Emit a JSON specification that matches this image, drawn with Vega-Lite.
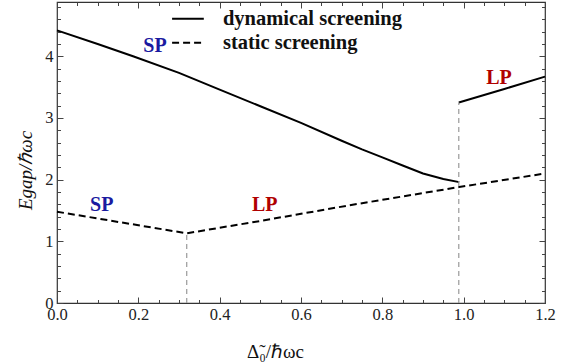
{
  "$schema": "https://vega.github.io/schema/vega-lite/v6.json",
  "width": 488,
  "height": 301,
  "autosize": {"type": "none"},
  "padding": {"left": 57, "top": 2, "right": 29, "bottom": 59},
  "config": {
    "view": {"stroke": "#333", "strokeWidth": 1.2},
    "font": "Liberation Serif",
    "text": {"font": "Liberation Serif"},
    "style": {"guide-label": {"font": "Liberation Serif"}, "guide-title": {"font": "Liberation Serif"}},
    "axis": {"grid": false, "domain": false, "labelFont": "Liberation Serif", "titleFont": "Liberation Serif", "tickColor": "#444", "tickWidth": 1, "labelColor": "#222", "titleColor": "#111"}
  },
  "datasets": {
    "curves": [
      {"s": "dyn1", "x": 0.0, "y": 4.42},
      {"s": "dyn1", "x": 0.1, "y": 4.2},
      {"s": "dyn1", "x": 0.187, "y": 4.0},
      {"s": "dyn1", "x": 0.3, "y": 3.73},
      {"s": "dyn1", "x": 0.4, "y": 3.46},
      {"s": "dyn1", "x": 0.5, "y": 3.19},
      {"s": "dyn1", "x": 0.6, "y": 2.92},
      {"s": "dyn1", "x": 0.7, "y": 2.63},
      {"s": "dyn1", "x": 0.75, "y": 2.49},
      {"s": "dyn1", "x": 0.8, "y": 2.36},
      {"s": "dyn1", "x": 0.85, "y": 2.23},
      {"s": "dyn1", "x": 0.9, "y": 2.1},
      {"s": "dyn1", "x": 0.95, "y": 2.01},
      {"s": "dyn1", "x": 0.989, "y": 1.96},
      {"s": "dyn2", "x": 0.988, "y": 3.25},
      {"s": "dyn2", "x": 1.1, "y": 3.47},
      {"s": "dyn2", "x": 1.2, "y": 3.67},
      {"s": "stat", "x": 0.0, "y": 1.48},
      {"s": "stat", "x": 0.319, "y": 1.13},
      {"s": "stat", "x": 0.5, "y": 1.33},
      {"s": "stat", "x": 0.72, "y": 1.585},
      {"s": "stat", "x": 0.989, "y": 1.88},
      {"s": "stat", "x": 1.2, "y": 2.1}
    ],
    "vlines": [
      {"x": 0.319, "y0": 0, "y1": 1.13},
      {"x": 0.988, "y0": 0, "y1": 3.25}
    ],
    "labels": [
      {"x": 0.241, "y": 4.16, "t": "SP", "c": "blue"},
      {"x": 0.11, "y": 1.59, "t": "SP", "c": "blue"},
      {"x": 0.511, "y": 1.59, "t": "LP", "c": "red"},
      {"x": 1.087, "y": 3.65, "t": "LP", "c": "red"}
    ],
    "legend": [
      {"x1": 0.283, "x2": 0.361, "xt": 0.408, "y": 4.61, "t": "dynamical screening", "s": "solid"},
      {"x1": 0.283, "x2": 0.361, "xt": 0.408, "y": 4.22, "t": "static screening", "s": "dashed"}
    ]
  },
  "resolve": {"axis": {"x": "independent", "y": "independent"}},
  "layer": [
    {
      "data": {"name": "curves"},
      "transform": [{"filter": "datum.s !== 'stat'"}],
      "mark": {"type": "line", "color": "black", "strokeWidth": 2},
      "encoding": {
        "detail": {"field": "s"},
        "x": {"field": "x", "type": "quantitative", "scale": {"domain": [0, 1.2], "nice": false, "zero": false},
          "axis": {"orient": "bottom", "values": [0, 0.2, 0.4, 0.6, 0.8, 1.0, 1.2], "format": ".1f", "ticks": false, "labelFont": "Liberation Serif", "labelFontSize": 16.5, "labelPadding": 3, "labelFlush": false,
            "title": "Δ̃₀/ℏωc", "titleFont": "Liberation Serif", "titleFontSize": 19, "titleFontWeight": "normal", "titleX": 218, "titleY": 48, "titleBaseline": "middle"}},
        "y": {"field": "y", "type": "quantitative", "scale": {"domain": [0, 4.88], "nice": false, "zero": false},
          "axis": {"orient": "left", "values": [0, 1, 2, 3, 4], "format": "d", "ticks": false, "labelFont": "Liberation Serif", "labelFontSize": 16.5, "labelPadding": 4, "labelFlush": false,
            "title": "Egap/ℏωc", "titleFont": "Liberation Serif", "titleFontSize": 19, "titleFontWeight": "normal", "titleFontStyle": "italic", "titleAngle": -90, "titleX": -32, "titleY": 168, "titleAlign": "center", "titleBaseline": "middle"}}
      }
    },
    {
      "data": {"name": "curves"},
      "transform": [{"filter": "datum.s === 'stat'"}],
      "mark": {"type": "line", "color": "black", "strokeWidth": 2, "strokeDash": [7, 4]},
      "encoding": {
        "x": {"field": "x", "type": "quantitative", "scale": {"domain": [0, 1.2], "nice": false, "zero": false},
          "axis": {"orient": "bottom", "values": [0, 0.2, 0.4, 0.6, 0.8, 1.0, 1.2], "labels": false, "tickSize": -6, "title": null}},
        "y": {"field": "y", "type": "quantitative", "scale": {"domain": [0, 4.88], "nice": false, "zero": false},
          "axis": {"orient": "left", "values": [0, 1, 2, 3, 4], "labels": false, "tickSize": -6, "title": null}}
      }
    },
    {
      "data": {"name": "vlines"},
      "mark": {"type": "rule", "color": "#999", "strokeWidth": 1.2, "strokeDash": [5, 4]},
      "encoding": {
        "x": {"field": "x", "type": "quantitative", "scale": {"domain": [0, 1.2], "nice": false, "zero": false},
          "axis": {"orient": "bottom", "values": [0.05, 0.1, 0.15, 0.25, 0.3, 0.35, 0.45, 0.5, 0.55, 0.65, 0.7, 0.75, 0.85, 0.9, 0.95, 1.05, 1.1, 1.15], "labels": false, "tickSize": -3.5, "title": null}},
        "y": {"field": "y0", "type": "quantitative", "scale": {"domain": [0, 4.88], "nice": false, "zero": false},
          "axis": {"orient": "left", "values": [0.2, 0.4, 0.6, 0.8, 1.2, 1.4, 1.6, 1.8, 2.2, 2.4, 2.6, 2.8, 3.2, 3.4, 3.6, 3.8, 4.2, 4.4, 4.6, 4.8], "labels": false, "tickSize": -3.5, "title": null}},
        "y2": {"field": "y1"}
      }
    },
    {
      "data": {"name": "labels"},
      "mark": {"type": "text", "font": "Liberation Serif", "fontWeight": "bold", "fontSize": 20, "align": "center", "baseline": "middle"},
      "encoding": {
        "x": {"field": "x", "type": "quantitative", "scale": {"domain": [0, 1.2], "nice": false, "zero": false},
          "axis": {"orient": "top", "values": [0, 0.2, 0.4, 0.6, 0.8, 1.0, 1.2], "labels": false, "tickSize": -6, "title": null}},
        "y": {"field": "y", "type": "quantitative", "scale": {"domain": [0, 4.88], "nice": false, "zero": false},
          "axis": {"orient": "right", "values": [0, 1, 2, 3, 4], "labels": false, "tickSize": -6, "title": null}},
        "text": {"field": "t"},
        "color": {"field": "c", "type": "nominal", "scale": {"domain": ["blue", "red"], "range": ["#1a1aa0", "#b00000"]}, "legend": null}
      }
    },
    {
      "data": {"name": "legend"},
      "mark": {"type": "text", "font": "Liberation Serif", "fontWeight": "bold", "fontSize": 20.5, "align": "left", "baseline": "middle", "color": "#111"},
      "encoding": {
        "x": {"field": "xt", "type": "quantitative", "scale": {"domain": [0, 1.2], "nice": false, "zero": false},
          "axis": {"orient": "top", "values": [0.05, 0.1, 0.15, 0.25, 0.3, 0.35, 0.45, 0.5, 0.55, 0.65, 0.7, 0.75, 0.85, 0.9, 0.95, 1.05, 1.1, 1.15], "labels": false, "tickSize": -3.5, "title": null}},
        "y": {"field": "y", "type": "quantitative", "scale": {"domain": [0, 4.88], "nice": false, "zero": false},
          "axis": {"orient": "right", "values": [0.2, 0.4, 0.6, 0.8, 1.2, 1.4, 1.6, 1.8, 2.2, 2.4, 2.6, 2.8, 3.2, 3.4, 3.6, 3.8, 4.2, 4.4, 4.6, 4.8], "labels": false, "tickSize": -3.5, "title": null}},
        "text": {"field": "t"}
      }
    },
    {
      "data": {"name": "legend"},
      "mark": {"type": "rule", "color": "black", "strokeWidth": 2},
      "encoding": {
        "x": {"field": "x1", "type": "quantitative", "scale": {"domain": [0, 1.2], "nice": false, "zero": false}, "axis": null},
        "x2": {"field": "x2"},
        "y": {"field": "y", "type": "quantitative", "scale": {"domain": [0, 4.88], "nice": false, "zero": false}, "axis": null},
        "strokeDash": {"field": "s", "type": "nominal", "scale": {"domain": ["solid", "dashed"], "range": [[1, 0], [7, 4]]}, "legend": null}
      }
    }
  ]
}
